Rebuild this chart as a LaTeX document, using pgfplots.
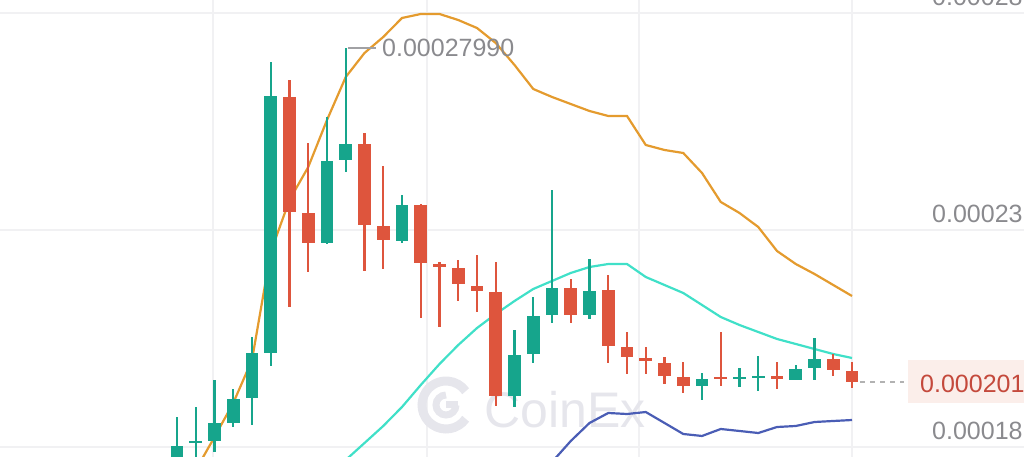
\documentclass[border=0pt]{standalone}
\usepackage{pgfplots}
\pgfplotsset{compat=1.18}
\usepackage{pgfplotstable}
\usepackage{fontspec}
\setmainfont{Liberation Sans}
\definecolor{cg}{HTML}{16A58C}
\definecolor{cr}{HTML}{DE553D}
\definecolor{bandO}{HTML}{E49B2E}
\definecolor{bandC}{HTML}{40E0C8}
\definecolor{bandB}{HTML}{4A5DB5}
\definecolor{gridc}{HTML}{F1F1F3}
\definecolor{txt}{HTML}{8A8A8E}
\definecolor{tagbg}{HTML}{FBEEEA}
\definecolor{tagtx}{HTML}{C4493C}
\definecolor{wm}{HTML}{E6E6EC}

% rising candles: index open high low close
\pgfplotstableread{
i o h l c
1 0.00018210 0.00019273 0.00018021 0.00018588
2 0.00018659 0.00019510 0.00018140 0.00018706
3 0.00018706 0.00020147 0.00018447 0.00019132
4 0.00019132 0.00019935 0.00019037 0.00019698
5 0.00019722 0.00021163 0.00019084 0.00020785
6 0.00020785 0.00027658 0.00020478 0.00026855
9 0.00023383 0.00026359 0.00023360 0.00025320
10 0.00025344 0.00027990 0.00025060 0.00025722
13 0.00023430 0.00024517 0.00023383 0.00024281
19 0.00019769 0.00021328 0.00019510 0.00020738
20 0.00020761 0.00022108 0.00020549 0.00021659
21 0.00021683 0.00024635 0.00021494 0.00022320
23 0.00021683 0.00023005 0.00021588 0.00022249
29 0.00020006 0.00020313 0.00019675 0.00020171
31 0.00020171 0.00020431 0.00019982 0.00020218
32 0.00020194 0.00020714 0.00019887 0.00020242
34 0.00020147 0.00020502 0.00020147 0.00020407
35 0.00020431 0.00021139 0.00020147 0.00020643
}\candup
% falling candles
\pgfplotstableread{
i o h l c
7 0.00026832 0.00027233 0.00021872 0.00024115
8 0.00024092 0.00025745 0.00022698 0.00023383
11 0.00025722 0.00025981 0.00022722 0.00023808
12 0.00023785 0.00025202 0.00022769 0.00023454
14 0.00024281 0.00024304 0.00021612 0.00022911
15 0.00022887 0.00022934 0.00021399 0.00022816
16 0.00022793 0.00022982 0.00022013 0.00022415
17 0.00022368 0.00023100 0.00021753 0.00022249
18 0.00022226 0.00022934 0.00019533 0.00019769
22 0.00022320 0.00022533 0.00021494 0.00021683
24 0.00022273 0.00022627 0.00020549 0.00020950
25 0.00020927 0.00021281 0.00020289 0.00020691
26 0.00020667 0.00020927 0.00020289 0.00020596
27 0.00020549 0.00020691 0.00020053 0.00020242
28 0.00020218 0.00020572 0.00019840 0.00020006
30 0.00020218 0.00021281 0.00020006 0.00020171
33 0.00020242 0.00020572 0.00019935 0.00020171
36 0.00020643 0.00020761 0.00020242 0.00020383
37 0.00020360 0.00020572 0.00019958 0.00020100
}\canddown
% upper band
\pgfplotstableread{
i v
2 0.00018021
3 0.00018801
4 0.00019604
5 0.00020620
6 0.00023171
7 0.00024399
8 0.00025178
9 0.00026288
10 0.00027304
11 0.00027871
12 0.00028249
13 0.00028698
14 0.00028792
15 0.00028792
16 0.00028650
17 0.00028461
18 0.00028107
19 0.00027588
20 0.00027021
21 0.00026832
22 0.00026666
23 0.00026501
24 0.00026383
25 0.00026383
26 0.00025698
27 0.00025580
28 0.00025509
29 0.00025037
30 0.00024352
31 0.00024092
32 0.00023761
33 0.00023194
34 0.00022887
35 0.00022651
36 0.00022391
37 0.00022131
}\bandup
% middle band
\pgfplotstableread{
i v
10 0.00018258
11 0.00018659
12 0.00019061
13 0.00019510
14 0.00020029
15 0.00020525
16 0.00020974
17 0.00021375
18 0.00021706
19 0.00022013
20 0.00022297
21 0.00022486
22 0.00022675
23 0.00022816
24 0.00022887
25 0.00022887
26 0.00022580
27 0.00022391
28 0.00022202
29 0.00021919
30 0.00021635
31 0.00021446
32 0.00021281
33 0.00021116
34 0.00020998
35 0.00020879
36 0.00020761
37 0.00020667
}\bandmid
% lower band
\pgfplotstableread{
i v
20 0.00017549
21 0.00018210
22 0.00018706
23 0.00019132
24 0.00019368
25 0.00019344
26 0.00019391
27 0.00019132
28 0.00018872
29 0.00018825
30 0.00018990
31 0.00018943
32 0.00018895
33 0.00019037
34 0.00019061
35 0.00019155
36 0.00019179
37 0.00019202
}\bandlow

\begin{document}
\begin{tikzpicture}
% background grid and watermark (pixel coordinates, origin top-left)
\begin{scope}[shift={(0pt,457pt)}, x=1pt, y=-1pt]
  \foreach \gx in {213,427,639,852} \draw[gridc, line width=1.5pt] (\gx,0) -- (\gx,457);
  \foreach \gy in {13,230,447} \draw[gridc, line width=1.5pt] (0,\gy) -- (1024,\gy);
  \draw[wm, line width=9pt] (446,405) ++(35:24) arc[start angle=35, end angle=325, radius=24];
  \draw[wm, line width=7pt] (446,405) ++(0:10) arc[start angle=0, end angle=270, radius=10];
  \draw[wm, line width=7pt] (446,405) -- (458,405);
  \node[anchor=base west, inner sep=0pt, text=wm, font=\fontsize{50}{60}\selectfont] at (484,428) {CoinEx};
\end{scope}

\begin{axis}[name=ax, at={(0,0)}, anchor=south west,
  scale only axis, width=1024pt, height=457pt,
  xmin=-8.44, xmax=46.173, ymin=0.000183285, ymax=0.000291228,
  hide axis,
  error bars/error mark=none]
  % bands
  \addplot[bandO, line width=2.2pt, mark=none] table[x=i, y=v] {\bandup};
  \addplot[bandC, line width=2.2pt, mark=none] table[x=i, y=v] {\bandmid};
  \addplot[bandB, line width=2.2pt, mark=none] table[x=i, y=v] {\bandlow};
  % wicks
  \addplot[draw=none, mark=none, error bars/.cd, y dir=both, y explicit,
    error bar style={line width=2.4pt, draw=cg}]
    table[x=i, y expr=(\thisrow{h}+\thisrow{l})/2, y error expr=(\thisrow{h}-\thisrow{l})/2] {\candup};
  \addplot[draw=none, mark=none, error bars/.cd, y dir=both, y explicit,
    error bar style={line width=2.4pt, draw=cr}]
    table[x=i, y expr=(\thisrow{h}+\thisrow{l})/2, y error expr=(\thisrow{h}-\thisrow{l})/2] {\canddown};
  % bodies
  \addplot[draw=none, mark=none, error bars/.cd, y dir=both, y explicit,
    error bar style={line width=12.8pt, draw=cg}]
    table[x=i, y expr=(\thisrow{o}+\thisrow{c})/2, y error expr=(\thisrow{c}-\thisrow{o})/2] {\candup};
  \addplot[draw=none, mark=none, error bars/.cd, y dir=both, y explicit,
    error bar style={line width=12.8pt, draw=cr}]
    table[x=i, y expr=(\thisrow{o}+\thisrow{c})/2, y error expr=(\thisrow{o}-\thisrow{c})/2] {\canddown};
\end{axis}

% annotations (pixel coordinates)
\begin{scope}[shift={(0pt,457pt)}, x=1pt, y=-1pt]
  \draw[txt!80, line width=1.4pt] (348,48) -- (376,48);
  \node[anchor=base west, inner sep=0pt, text=txt, font=\fontsize{25}{30}\selectfont] at (382,57) {0.00027990};
  \draw[black!30, line width=1.4pt, dash pattern=on 5pt off 5pt] (860,382) -- (904,382);
  \fill[tagbg] (908,360) rectangle (1030,403);
  \node[anchor=base west, inner sep=0pt, text=tagtx, font=\fontsize{25}{30}\selectfont] at (920,393) {0.000201};
  \node[anchor=base west, inner sep=0pt, text=txt, font=\fontsize{25}{30}\selectfont] at (932,6) {0.00028};
  \node[anchor=base west, inner sep=0pt, text=txt, font=\fontsize{25}{30}\selectfont] at (932,223) {0.00023};
  \node[anchor=base west, inner sep=0pt, text=txt, font=\fontsize{25}{30}\selectfont] at (932,440) {0.00018};
\end{scope}
\pgfresetboundingbox
\useasboundingbox (0,0) rectangle (1024pt,457pt);
\end{tikzpicture}
\end{document}
